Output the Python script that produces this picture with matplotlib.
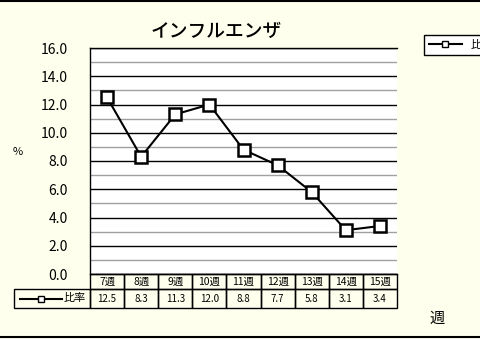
import matplotlib
matplotlib.use('Agg')
import matplotlib.pyplot as plt
from matplotlib.lines import Line2D
from matplotlib.patches import Rectangle

plt.rcParams['font.family'] = ['Noto Sans CJK JP', 'DejaVu Sans']

weeks = ['7週', '8週', '9週', '10週', '11週', '12週', '13週', '14週', '15週']
ratio = [12.5, 8.3, 11.3, 12.0, 8.8, 7.7, 5.8, 3.1, 3.4]
series_name = '比率'
title = 'インフルエンザ'
yticks = [0, 2, 4, 6, 8, 10, 12, 14, 16]

W, H = 480, 339
bg = '#FFFFEE'

fig = plt.figure(figsize=(W / 100, H / 100), dpi=100, facecolor=bg)
# plot area in pixels: x 90..397, y 48..274
ax = fig.add_axes([90 / W, 1 - 274 / H, 307 / W, 226 / H])
ax.set_facecolor('white')

x = list(range(len(weeks)))
ax.plot(x, ratio, color='black', lw=1.5, marker='s', ms=8.5,
        mfc='white', mec='black', mew=1.8, zorder=3, clip_on=False)

ax.set_xlim(-0.5, len(weeks) - 0.5)
ax.set_ylim(0, 16)
ax.set_yticks(yticks)
ax.set_yticklabels(['{:.1f}'.format(v) for v in yticks], fontsize=10)
ax.set_yticks([v + 1 for v in yticks[:-1]], minor=True)
ax.tick_params(axis='y', which='both', length=0, pad=16)
ax.set_xticks([])
ax.grid(True, axis='y', which='major', color='black', lw=1)
ax.grid(True, axis='y', which='minor', color='#a0a0a0', lw=1)
ax.set_axisbelow(True)

ax.spines['right'].set_visible(False)
for s in ['left', 'top', 'bottom']:
    ax.spines[s].set_color('black')
    ax.spines[s].set_linewidth(1)

ax.set_title(title, fontsize=13.5, pad=8, x=0.41, fontweight='medium')

# data table under the axis
r1 = -15 / 226
r2 = -34 / 226
n = len(weeks)
for i in range(n):
    ax.add_patch(Rectangle((i / n, r1), 1 / n, -r1, transform=ax.transAxes,
                           fill=False, ec='black', lw=1, clip_on=False))
    ax.add_patch(Rectangle((i / n, r2), 1 / n, r1 - r2, transform=ax.transAxes,
                           fill=False, ec='black', lw=1, clip_on=False))
    ax.text((i + 0.5) / n, r1 / 2, weeks[i], transform=ax.transAxes,
            ha='center', va='center', fontsize=7.5)
    ax.text((i + 0.5) / n, (r1 + r2) / 2, '{:.1f}'.format(ratio[i]),
            transform=ax.transAxes, ha='center', va='center', fontsize=7)

lx0 = (14 - 90) / 307
ax.add_patch(Rectangle((lx0, r2), -lx0, r1 - r2, transform=ax.transAxes,
                       fill=False, ec='black', lw=1, clip_on=False))
ym = (r1 + r2) / 2
ax.add_line(Line2D([(20 - 90) / 307, (62 - 90) / 307], [ym, ym],
                   transform=ax.transAxes, color='black', lw=1.5,
                   clip_on=False))
ax.add_line(Line2D([(41 - 90) / 307], [ym], transform=ax.transAxes,
                   marker='s', ms=4, mfc='white', mec='black', mew=1,
                   clip_on=False))
ax.text((64 - 90) / 307, ym, series_name, transform=ax.transAxes,
        ha='left', va='center', fontsize=8)

# legend at right, cut by the figure edge like in the original
handle = Line2D([], [], color='black', lw=1.5, marker='s', ms=4,
                mfc='white', mec='black', mew=1)
leg = fig.legend([handle], [series_name], loc='upper left',
                 bbox_to_anchor=(418 / W, 1 - 29 / H), fontsize=8,
                 fancybox=False, edgecolor='black', facecolor='white',
                 framealpha=1, borderpad=0.45, handlelength=3)
leg.get_frame().set_linewidth(1)

fig.text(13 / W, 1 - 152 / H, '%', fontsize=8, ha='left', va='center')
fig.text(430 / W, 1 - 318 / H, '週', fontsize=11, ha='left', va='center')

# chart border lines top and bottom
fig.add_artist(Line2D([0, 1], [1 - 1 / H, 1 - 1 / H], color='black', lw=1.5))
fig.add_artist(Line2D([0, 1], [1 - 337 / H, 1 - 337 / H], color='black', lw=1.5))

fig.savefig('out.png', dpi=100, facecolor=bg)
